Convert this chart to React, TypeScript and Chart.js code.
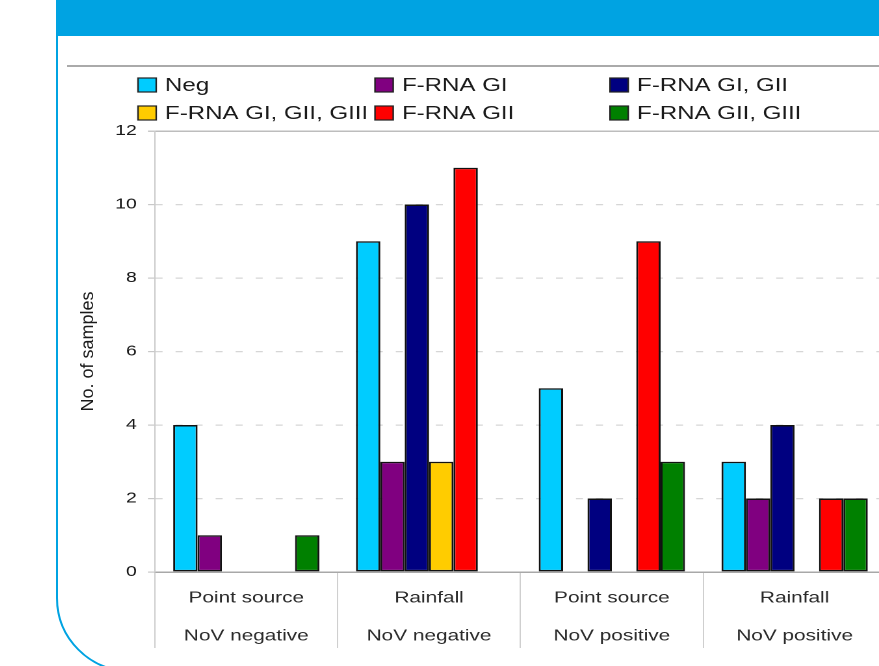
import React, { useEffect, useRef } from 'react';
import { Chart, registerables } from 'chart.js';

Chart.register(...registerables);

// ---- data ----
const categories: string[][] = [
  ['Point source', 'NoV negative'],
  ['Rainfall', 'NoV negative'],
  ['Point source', 'NoV positive'],
  ['Rainfall', 'NoV positive'],
];
const seriesNames = ['Neg', 'F-RNA GI', 'F-RNA GI, GII', 'F-RNA GI, GII, GIII', 'F-RNA GII', 'F-RNA GII, GIII'];
const seriesColors = ['#00CCFF', '#800080', '#000080', '#FFCC00', '#FF0000', '#008000'];
const neg = [4, 9, 5, 3];
const fRnaGI = [1, 3, 0, 2];
const fRnaGIGII = [0, 10, 2, 4];
const fRnaGIGIIGIII = [0, 3, 0, 0];
const fRnaGII = [0, 11, 9, 2];
const fRnaGIIGIII = [1, 0, 3, 2];
const yMin = 0;
const yMax = 12;
const yStep = 2;
const yTitle = 'No. of samples';

const seriesValues = [neg, fRnaGI, fRnaGIGII, fRnaGIGIIGIII, fRnaGII, fRnaGIIGIII];

const STRETCH = 1.3;
const FONT = '"Liberation Sans", Arial, sans-serif';

const legendAndTitlePlugin = {
  id: 'gridLegendTitle',
  afterDraw(chart: any) {
    const ctx = chart.ctx as CanvasRenderingContext2D;
    const colX = [60, 242.3, 423.1];
    const rowY = [15, 43];
    ctx.save();
    ctx.font = `18.5px ${FONT}`;
    ctx.textBaseline = 'middle';
    ctx.textAlign = 'left';
    chart.data.datasets.forEach((ds: any, i: number) => {
      const x = colX[i % 3];
      const y = rowY[Math.floor(i / 3)];
      ctx.fillStyle = ds.backgroundColor;
      ctx.fillRect(x, y - 7, 14, 14);
      ctx.strokeStyle = '#222';
      ctx.lineWidth = 1.2;
      ctx.strokeRect(x, y - 7, 14, 14);
      ctx.fillStyle = '#1a1a1a';
      ctx.fillText(ds.label, x + 20.8, y + 1);
    });
    ctx.restore();

    // y axis title (drawn unstretched)
    const area = chart.chartArea;
    ctx.save();
    ctx.translate(21.5, (area.top + area.bottom) / 2);
    ctx.scale(1 / STRETCH, 1);
    ctx.rotate(-Math.PI / 2);
    ctx.font = `18px ${FONT}`;
    ctx.fillStyle = '#1a1a1a';
    ctx.textAlign = 'center';
    ctx.textBaseline = 'middle';
    ctx.fillText(yTitle, 0, 0);
    ctx.restore();
  },
};

export default function App() {
  const canvasRef = useRef<HTMLCanvasElement | null>(null);

  useEffect(() => {
    const canvas = canvasRef.current;
    if (!canvas) return;
    const chart = new Chart(canvas, {
      type: 'bar',
      data: {
        labels: categories,
        datasets: seriesNames.map((name, i) => ({
          label: name,
          data: seriesValues[i].map((v) => (v === 0 ? null : v)),
          backgroundColor: seriesColors[i],
          borderColor: '#111',
          borderWidth: 1.5,
          borderSkipped: false,
          categoryPercentage: 0.8,
          barPercentage: 1.0,
        })),
      },
      options: {
        responsive: false,
        animation: false,
        devicePixelRatio: 2,
        layout: { padding: { top: 61, right: 10.6, left: 0, bottom: 0 } },
        plugins: {
          legend: { display: false },
          tooltip: { enabled: false },
          title: { display: false },
        },
        scales: {
          x: {
            type: 'category',
            afterFit: (scale: any) => {
              scale.height = 88;
            },
            grid: {
              offset: true,
              drawOnChartArea: false,
              drawTicks: true,
              tickLength: 76,
              color: '#cfcfcf',
              lineWidth: 1,
            },
            border: { display: true, color: '#a8a8a8', width: 1.5 },
            ticks: {
              autoSkip: false,
              maxRotation: 0,
              minRotation: 0,
              padding: -69,
              color: '#2a2a2a',
              font: { family: FONT, size: 16, lineHeight: 38 / 16 },
            },
          },
          y: {
            min: yMin,
            max: yMax,
            afterFit: (scale: any) => {
              scale.width = 73;
            },
            grid: {
              color: (c: any) =>
                c.tick && c.tick.value === yMax ? '#bdbdbd' : c.tick && c.tick.value === yMin ? 'rgba(0,0,0,0)' : '#d6d6d6',
              lineWidth: (c: any) => (c.tick && c.tick.value === yMax ? 1.5 : 1.2),
              tickLength: 5.4,
              tickColor: '#c8c8c8',
              drawTicks: true,
            },
            border: {
              display: true,
              color: '#cccccc',
              width: 1,
              dash: (c: any) => (c.tick && c.tick.value !== yMax ? [5.4, 10] : []),
            },
            ticks: {
              stepSize: yStep,
              padding: 8.5,
              color: '#1a1a1a',
              font: { family: FONT, size: 15 },
            },
            title: { display: false },
          },
        },
      },
      plugins: [legendAndTitlePlugin],
    } as any);
    return () => chart.destroy();
  }, []);

  return (
    <div
      style={{
        position: 'absolute',
        left: 0,
        top: 0,
        width: 879,
        height: 666,
        overflow: 'hidden',
        background: '#ffffff',
      }}
    >
      <div
        style={{
          position: 'absolute',
          left: 56,
          top: 34,
          width: 900,
          height: 638,
          border: '2px solid #00A3E2',
          borderBottomLeftRadius: 74,
          background: '#ffffff',
          boxSizing: 'border-box',
        }}
      />
      <div
        style={{
          position: 'absolute',
          left: 56,
          top: 0,
          width: 900,
          height: 36,
          background: '#00A3E2',
        }}
      />
      <div
        style={{
          position: 'absolute',
          left: 67,
          top: 65,
          width: 900,
          height: 2,
          background: '#aaaaaa',
        }}
      />
      <div
        style={{
          position: 'absolute',
          left: 60,
          top: 70,
          width: 646,
          height: 590,
          transform: `scaleX(${STRETCH})`,
          transformOrigin: '0 0',
        }}
      >
        <canvas ref={canvasRef} width={646} height={590} style={{ display: 'block' }} />
      </div>
    </div>
  );
}
